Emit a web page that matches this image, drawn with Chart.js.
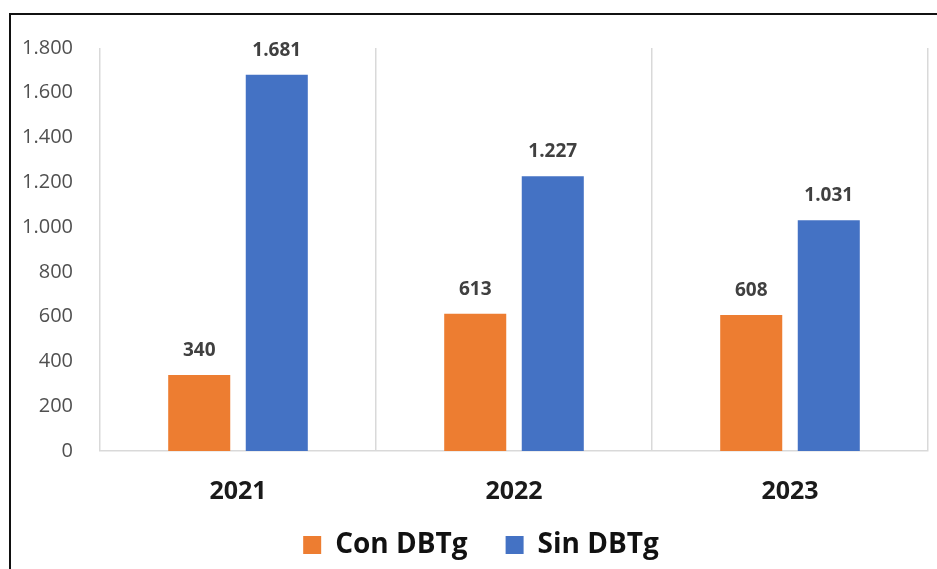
<!DOCTYPE html>
<html>
<head>
<meta charset="utf-8">
<script src="https://cdn.jsdelivr.net/npm/chart.js@4"></script>
<style>
  html, body { margin: 0; padding: 0; background: #fff; }
  body { width: 937px; height: 569px; position: relative; overflow: hidden; }
  .frame {
    position: absolute; left: 9px; top: 13px; right: -10px; bottom: -10px;
    border-top: 2px solid #111; border-left: 2px solid #111;
  }
  .chart-box { position: absolute; left: 0; top: 0; width: 937px; height: 569px; }
</style>
</head>
<body>
<div class="frame"></div>
<div class="chart-box"><canvas id="grafico"></canvas></div>
<script>
const anios = ["2021", "2022", "2023"];
const conDBTg = [340, 613, 608];
const sinDBTg = [1681, 1227, 1031];
const ticksY = { min: 0, max: 1800, paso: 200 };

const FUENTE = "'Open Sans', 'Noto Sans', sans-serif";

// miles con punto: 1681 -> 1.681
function formatoMiles(v) {
  return String(v).replace(/\B(?=(\d{3})+(?!\d))/g, ".");
}

// etiquetas de valor encima de cada barra
const etiquetasValor = {
  id: "etiquetasValor",
  afterDatasetsDraw(chart) {
    const ctx = chart.ctx;
    ctx.save();
    ctx.font = "bold 19px " + FUENTE;
    ctx.fillStyle = "#404040";
    ctx.textAlign = "center";
    ctx.textBaseline = "alphabetic";
    chart.data.datasets.forEach((ds, i) => {
      chart.getDatasetMeta(i).data.forEach((barra, j) => {
        ctx.fillText(formatoMiles(ds.data[j]), barra.x, barra.y - 19);
      });
    });
    ctx.restore();
  }
};

// desplaza la leyenda un poco a la derecha del centro
const leyendaDesplazada = {
  id: "leyendaDesplazada",
  afterLayout(chart) {
    if (chart.legend) {
      chart.legend.left += 12;
      chart.legend.right += 12;
    }
  }
};

new Chart(document.getElementById("grafico"), {
  type: "bar",
  data: {
    labels: anios,
    datasets: [
      { label: "Con DBTg", data: conDBTg, backgroundColor: "#ED7D31" },
      { label: "Sin DBTg", data: sinDBTg, backgroundColor: "#4472C4" }
    ]
  },
  options: {
    responsive: true,
    maintainAspectRatio: false,
    animation: false,
    categoryPercentage: 0.562,
    barPercentage: 0.8,
    layout: { padding: { top: 48, left: 10, right: 9, bottom: 0 } },
    scales: {
      x: {
        grid: { color: "#d9d9d9", lineWidth: 1.5, drawTicks: false },
        border: { color: "#d9d9d9", width: 1.5 },
        ticks: { color: "#1a1a1a", font: { family: FUENTE, size: 25, weight: "bold" }, padding: 26 },
        afterFit(scale) { scale.height = 70; }
      },
      y: {
        min: ticksY.min,
        max: ticksY.max,
        grid: { display: false, drawTicks: false },
        border: { display: false },
        ticks: {
          stepSize: ticksY.paso,
          color: "#505050",
          padding: 27,
          font: { family: FUENTE, size: 20 },
          callback: (v) => formatoMiles(v)
        },
        afterFit(scale) { scale.width = 90; }
      }
    },
    plugins: {
      tooltip: { enabled: false },
      legend: {
        position: "bottom",
        labels: {
          color: "#111",
          boxWidth: 18,
          boxHeight: 18,
          padding: 10,
          font: { family: FUENTE, size: 28, weight: "bold" },
          generateLabels(chart) {
            const items = Chart.defaults.plugins.legend.labels.generateLabels(chart);
            // separación entre las dos entradas
            items[0].text = items[0].text + "\u2003";
            return items;
          }
        }
      }
    }
  },
  plugins: [etiquetasValor, leyendaDesplazada]
});
</script>
</body>
</html>
